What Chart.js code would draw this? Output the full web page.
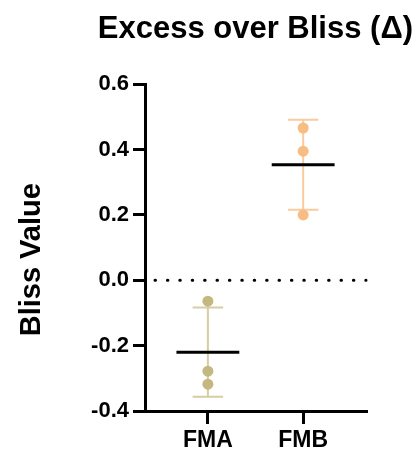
<!DOCTYPE html>
<html>
<head>
<meta charset="utf-8">
<script src="https://cdn.jsdelivr.net/npm/chart.js@4.4.0/dist/chart.umd.min.js"></script>
<style>
    html, body { margin: 0; padding: 0; background: #fff; }
    #bliss-chart { display: block; }
</style>
</head>
<body>
<canvas id="bliss-chart" width="420" height="455"></canvas>
<script>
    // replicate values
    var groups = ['FMA', 'FMB'];
    var fmaValues = [-0.064, -0.278, -0.318];
    var fmbValues = [0.466, 0.395, 0.200];
    var yTicks = [-0.4, -0.2, 0.0, 0.2, 0.4, 0.6];

    var pointColors = ['#c4b880', '#f7bd82'];
    var barColors = ['#d6cda3', '#f9cba0'];

    function mean(arr) {
        var s = 0;
        for (var i = 0; i < arr.length; i++) s += arr[i];
        return s / arr.length;
    }
    function sd(arr) {
        var m = mean(arr), s = 0;
        for (var i = 0; i < arr.length; i++) s += (arr[i] - m) * (arr[i] - m);
        return Math.sqrt(s / (arr.length - 1));
    }

    var allValues = [fmaValues, fmbValues];
    var datasets = [];
    for (var g = 0; g < groups.length; g++) {
        datasets.push({
            label: groups[g],
            data: allValues[g].map(function (v) { return { x: g + 1, y: v }; }),
            backgroundColor: pointColors[g],
            borderColor: pointColors[g],
            pointRadius: 5.5,
            pointBorderWidth: 0
        });
    }

    // error bars (mean ± SD) under the points, mean line on top
    var summaryPlugin = {
        id: 'summary',
        beforeDatasetsDraw: function (chart) {
            var ctx = chart.ctx, xs = chart.scales.x, ys = chart.scales.y;
            var area = chart.chartArea;
            ctx.save();
            // dotted zero line
            ctx.strokeStyle = '#000';
            ctx.lineWidth = 3;
            ctx.lineCap = 'round';
            ctx.setLineDash([0.5, 11.9]);
            var y0 = ys.getPixelForValue(0);
            ctx.beginPath();
            ctx.moveTo(area.left + 10, y0);
            ctx.lineTo(area.right - 1, y0);
            ctx.stroke();
            ctx.setLineDash([]);
            ctx.lineCap = 'butt';

            for (var g = 0; g < groups.length; g++) {
                var m = mean(allValues[g]), s = sd(allValues[g]);
                var xc = xs.getPixelForValue(g + 1);
                var xl = xs.getPixelForValue(g + 1 - 0.16);
                var xr = xs.getPixelForValue(g + 1 + 0.16);
                var yt = ys.getPixelForValue(m + s);
                var yb = ys.getPixelForValue(m - s);
                ctx.strokeStyle = barColors[g];
                ctx.lineWidth = 2;
                ctx.beginPath();
                ctx.moveTo(xc, yt); ctx.lineTo(xc, yb);
                ctx.moveTo(xl, yt); ctx.lineTo(xr, yt);
                ctx.moveTo(xl, yb); ctx.lineTo(xr, yb);
                ctx.stroke();
            }
            ctx.restore();
        },
        afterDatasetsDraw: function (chart) {
            var ctx = chart.ctx, xs = chart.scales.x, ys = chart.scales.y;
            ctx.save();
            ctx.strokeStyle = '#000';
            ctx.lineWidth = 3;
            for (var g = 0; g < groups.length; g++) {
                var ym = ys.getPixelForValue(mean(allValues[g]));
                ctx.beginPath();
                ctx.moveTo(xs.getPixelForValue(g + 1 - 0.33), ym);
                ctx.lineTo(xs.getPixelForValue(g + 1 + 0.33), ym);
                ctx.stroke();
            }
            ctx.restore();
        }
    };

    var fontFamily = '"Liberation Sans", Arial, sans-serif';

    var ctx = document.getElementById('bliss-chart').getContext('2d');
    window.blissChart = new Chart(ctx, {
        type: 'scatter',
        data: { datasets: datasets },
        plugins: [summaryPlugin],
        options: {
            responsive: false,
            animation: false,
            layout: {
                padding: { top: 0, right: 7, bottom: 0, left: 0 }
            },
            plugins: {
                legend: { display: false },
                tooltip: { enabled: false },
                title: {
                    display: true,
                    text: 'Excess over Bliss (Δ)',
                    align: 'end',
                    color: '#000',
                    font: { family: fontFamily, size: 31, weight: 'bold' },
                    padding: { top: 11, bottom: 36 }
                }
            },
            scales: {
                x: {
                    type: 'linear',
                    min: 0.34,
                    max: 2.67,
                    afterBuildTicks: function (scale) {
                        scale.ticks = groups.map(function (n, i) { return { value: i + 1 }; });
                    },
                    afterFit: function (scale) {
                        scale.height = 44;
                    },
                    ticks: {
                        color: '#000',
                        padding: 3,
                        font: { family: fontFamily, size: 23, weight: 'bold' },
                        callback: function (v) { return groups[v - 1]; }
                    },
                    grid: {
                        drawOnChartArea: false,
                        drawTicks: true,
                        tickLength: 13,
                        tickWidth: 3,
                        tickColor: '#000'
                    },
                    border: { display: true, color: '#000', width: 3 }
                },
                y: {
                    min: -0.4,
                    max: 0.6,
                    afterBuildTicks: function (scale) {
                        scale.ticks = yTicks.map(function (v) { return { value: v }; });
                    },
                    afterFit: function (scale) {
                        scale.width = 145;
                    },
                    title: {
                        display: true,
                        text: 'Bliss Value\u00a0\u00a0\u00a0',
                        color: '#000',
                        font: { family: fontFamily, size: 29, weight: 'bold' },
                        padding: { top: 15, bottom: 0 }
                    },
                    ticks: {
                        color: '#000',
                        padding: 4,
                        font: { family: fontFamily, size: 22, weight: 'bold' },
                        callback: function (v) {
                            return Math.abs(v) < 1e-9 ? '0.0' : v.toFixed(1);
                        }
                    },
                    grid: {
                        drawOnChartArea: false,
                        drawTicks: true,
                        tickLength: 12,
                        tickWidth: 3,
                        tickColor: '#000'
                    },
                    border: { display: true, color: '#000', width: 3 }
                },
                // empty right-hand scale, only reserves the white margin
                yRight: {
                    position: 'right',
                    min: -0.4,
                    max: 0.6,
                    grid: { display: false },
                    border: { display: false },
                    ticks: { display: false },
                    afterFit: function (scale) {
                        scale.width = 46;
                    }
                }
            }
        }
    });
</script>
</body>
</html>
